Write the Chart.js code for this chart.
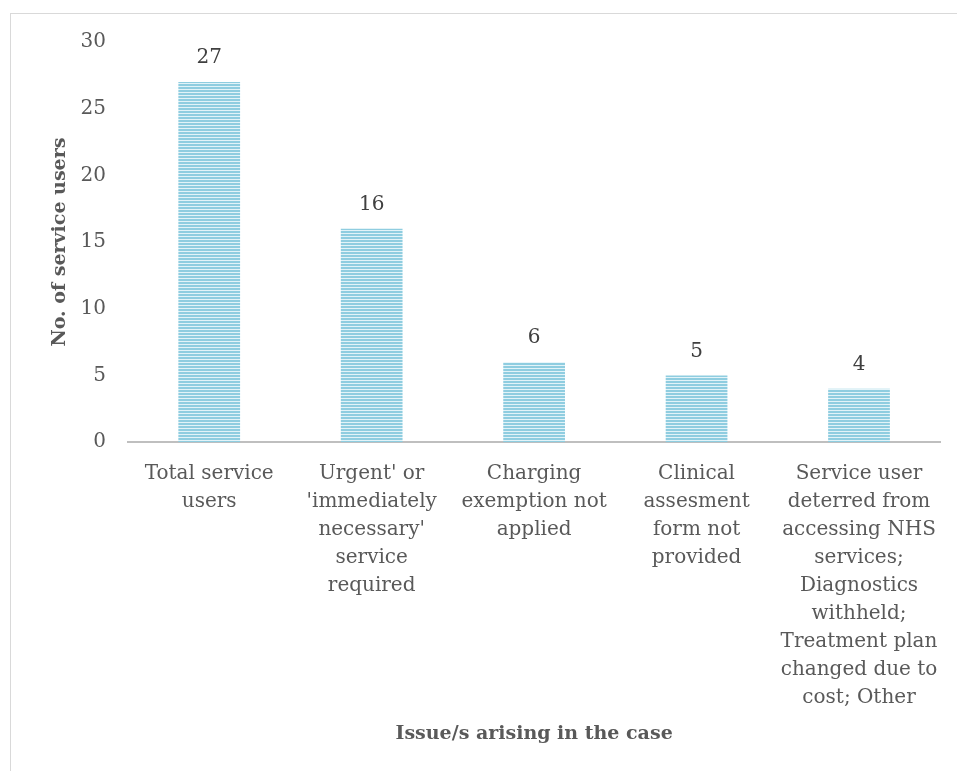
<!DOCTYPE html>
<html>
<head>
<meta charset="utf-8">
<script src="https://cdn.jsdelivr.net/npm/chart.js@4"></script>
<style>
html,body{margin:0;padding:0;background:#fff;overflow:hidden;}
#wrap{position:relative;width:957px;height:771px;overflow:hidden;}
#frame{position:absolute;left:10px;top:13px;width:1000px;height:800px;border:1px solid #d9d9d9;box-sizing:border-box;}
canvas{position:absolute;left:0;top:0;}
</style>
</head>
<body>
<div id="wrap"><div id="frame"></div><canvas id="c" width="957" height="771"></canvas></div>
<script>
const categories = [
  ["Total service", "users"],
  ["Urgent' or", "'immediately", "necessary'", "service", "required"],
  ["Charging", "exemption not", "applied"],
  ["Clinical", "assesment", "form not", "provided"],
  ["Service user", "deterred from", "accessing NHS", "services;", "Diagnostics", "withheld;", "Treatment plan", "changed due to", "cost; Other"]
];
const serviceUsers = [27, 16, 6, 5, 4];
const yTicks = [0, 5, 10, 15, 20, 25, 30];
const yTitle = "No. of service users";
const xTitle = "Issue/s arising in the case";

const FONT = "'DejaVu Serif', serif";
const TXT = "#595959";

function makePattern(){
  const p = document.createElement('canvas');
  p.width = 4; p.height = 3;
  const g = p.getContext('2d');
  g.fillStyle = '#8fcde0'; g.fillRect(0,0,4,2);
  g.fillStyle = '#e2f3f8'; g.fillRect(0,2,4,1);
  return g.createPattern(p, 'repeat');
}

const labelPlugin = {
  id: 'vals',
  afterDatasetsDraw(chart){
    const ctx = chart.ctx;
    const meta = chart.getDatasetMeta(0);
    ctx.save();
    ctx.font = "20px " + FONT;
    ctx.fillStyle = "#404040";
    ctx.textAlign = 'center';
    ctx.textBaseline = 'middle';
    meta.data.forEach((bar, i) => {
      ctx.fillText(String(serviceUsers[i]), bar.x, bar.y - 24);
    });
    ctx.restore();
  }
};

const ctx = document.getElementById('c').getContext('2d');
new Chart(ctx, {
  type: 'bar',
  data: {
    labels: categories,
    datasets: [{
      data: serviceUsers,
      backgroundColor: makePattern(),
      borderWidth: 0,
      barPercentage: 0.76,
      categoryPercentage: 0.5
    }]
  },
  options: {
    responsive: false,
    animation: false,
    devicePixelRatio: 1,
    layout: { padding: { left: 0, top: 42, right: 16, bottom: 26 } },
    plugins: { legend: { display: false }, tooltip: { enabled: false } },
    scales: {
      x: {
        afterFit(s){ s.height -= 20; },
        grid: { display: false, drawTicks: false },
        border: { display: true, color: '#bfbfbf', width: 2 },
        ticks: {
          color: TXT, font: { family: FONT, size: 20, lineHeight: '28px' },
          padding: 18, maxRotation: 0, autoSkip: false
        },
        title: {
          display: true, text: xTitle, color: TXT,
          font: { family: FONT, size: 19, weight: 'bold' },
          padding: { top: 12, bottom: 0 }
        }
      },
      y: {
        min: 0, max: 30,
        afterFit(s){ s.width = 128; },
        grid: { display: false, drawTicks: false },
        border: { display: false },
        afterBuildTicks(s){ s.ticks = yTicks.map(v => ({ value: v })); },
        ticks: {
          color: TXT, font: { family: FONT, size: 20 }, padding: 22
        },
        title: {
          display: true, text: yTitle, color: TXT,
          font: { family: FONT, size: 19, weight: 'bold' },
          padding: { top: 49, bottom: 0 }
        }
      }
    }
  },
  plugins: [labelPlugin]
});
</script>
</body>
</html>
